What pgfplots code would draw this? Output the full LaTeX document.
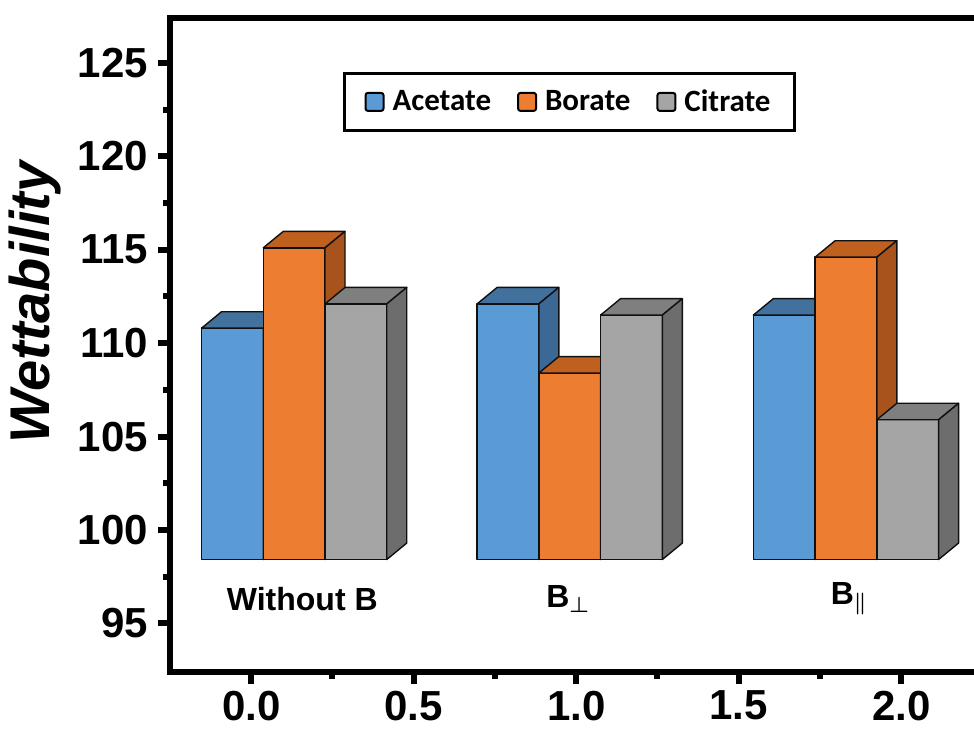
\documentclass[border=0pt]{standalone}
\usepackage{pgfplots}
\pgfplotsset{compat=1.18}
\usepackage{fontspec}
\setmainfont{Liberation Sans}
\newfontfamily\legfont{Carlito}

\definecolor{acF}{HTML}{5B9BD5}
\definecolor{acT}{HTML}{41719C}
\definecolor{acS}{HTML}{3C6896}
\definecolor{boF}{HTML}{ED7D31}
\definecolor{boT}{HTML}{C0601E}
\definecolor{boS}{HTML}{A9531C}
\definecolor{ciF}{HTML}{A5A5A5}
\definecolor{ciT}{HTML}{7F7F7F}
\definecolor{ciS}{HTML}{6D6D6D}
\definecolor{edge}{HTML}{101010}

% bar geometry (axis units)
\def\tdBW{0.19}\def\tdDX{0.0615}\def\tdDY{0.88}\def\tdBase{98.42}

% \tdbar{left x}{value}{colour prefix}
\newcommand{\tdbar}[3]{%
  \pgfmathsetmacro{\tdXa}{#1}%
  \pgfmathsetmacro{\tdXb}{#1+\tdBW}%
  \pgfmathsetmacro{\tdXc}{#1+\tdBW+\tdDX}%
  \pgfmathsetmacro{\tdXd}{#1+\tdDX}%
  \pgfmathsetmacro{\tdVt}{#2+\tdDY}%
  \pgfmathsetmacro{\tdBt}{\tdBase+\tdDY}%
  \edef\tddo{%
    \noexpand\addplot[forget plot, fill=#3F, draw=edge, line width=0.7pt, line join=round]
      coordinates {(\tdXa,\tdBase) (\tdXb,\tdBase) (\tdXb,#2) (\tdXa,#2)} -- cycle;
    \noexpand\addplot[forget plot, fill=#3T, draw=edge, line width=0.7pt, line join=round]
      coordinates {(\tdXa,#2) (\tdXb,#2) (\tdXc,\tdVt) (\tdXd,\tdVt)} -- cycle;
    \noexpand\addplot[forget plot, fill=#3S, draw=edge, line width=0.7pt, line join=round]
      coordinates {(\tdXb,\tdBase) (\tdXc,\tdBt) (\tdXc,\tdVt) (\tdXb,#2)} -- cycle;
  }\tddo
}

\pgfplotsset{sqleg/.style={legend image code/.code={%
  \draw[##1,draw=black,line width=1pt,rounded corners=1.2pt] (0pt,-4.5pt) rectangle (9pt,4.5pt);}}}

\begin{document}
\begin{tikzpicture}
\begin{axis}[
  scale only axis,
  width=402pt, height=327pt,
  xmin=-0.25, xmax=2.224,
  ymin=92.4, ymax=127.4,
  axis x line*=bottom, axis y line*=left,
  axis line style={line width=3.25pt, line cap=rect, -},
  xtick={0,0.5,1,1.5,2},
  ytick={95,100,105,110,115,120,125},
  minor x tick num=1, minor y tick num=1,
  tick align=outside,
  major tick length=6pt, minor tick length=3.5pt,
  every tick/.style={black, line width=3pt},
  /pgf/number format/assume math mode=true,
  ticklabel style={font=\bfseries\fontsize{21}{25}\selectfont},
  xticklabel style={/pgf/number format/.cd, fixed, fixed zerofill, precision=1},
  yticklabel style={/pgf/number format/.cd, fixed, precision=0},
  yticklabel shift=1.5pt,
  ylabel={Wettability},
  every axis y label/.style={at={(axis description cs:-0.168,0.565)}, rotate=90, anchor=center,
     font=\bfseries\itshape\fontsize{28}{32}\selectfont},
  legend columns=3,
  legend style={at={(axis description cs:0.2152,0.9174)}, anchor=north west,
    draw=black, line width=1.5pt, inner xsep=10pt, inner ysep=6pt,
    font=\legfont\bfseries\fontsize{15.5}{18}\selectfont,
    /tikz/every odd column/.append style={column sep=2pt},
    /tikz/every even column/.append style={column sep=11pt},
    nodes={inner sep=2pt}},
]
\addlegendimage{sqleg, fill=acF}\addlegendentry{Acetate}
\addlegendimage{sqleg, fill=boF}\addlegendentry{Borate}
\addlegendimage{sqleg, fill=ciF}\addlegendentry{Citrate}

% Without B
\tdbar{-0.153}{110.8}{ac}
\tdbar{0.037}{115.1}{bo}
\tdbar{0.227}{112.1}{ci}
% B perpendicular
\tdbar{0.695}{112.1}{ac}
\tdbar{0.885}{108.4}{bo}
\tdbar{1.075}{111.5}{ci}
% B parallel
\tdbar{1.545}{111.5}{ac}
\tdbar{1.735}{114.6}{bo}
\tdbar{1.925}{105.9}{ci}

\node[font=\bfseries\boldmath\fontsize{16}{19}\selectfont] at (axis cs:0.157,96.3) {Without B};
\node[font=\bfseries\boldmath\fontsize{16}{19}\selectfont] at (axis cs:0.975,96.3) {B$_{\perp}$};
\node[font=\bfseries\boldmath\fontsize{16}{19}\selectfont] at (axis cs:1.84,96.3) {B$_{\parallel}$};
\end{axis}
\draw[line width=3.25pt, line cap=rect] (current axis.north west) -- (current axis.north east);
\pgfresetboundingbox
\path[use as bounding box] (-85pt,-28pt) rectangle (402pt,336pt);
\end{tikzpicture}
\end{document}
